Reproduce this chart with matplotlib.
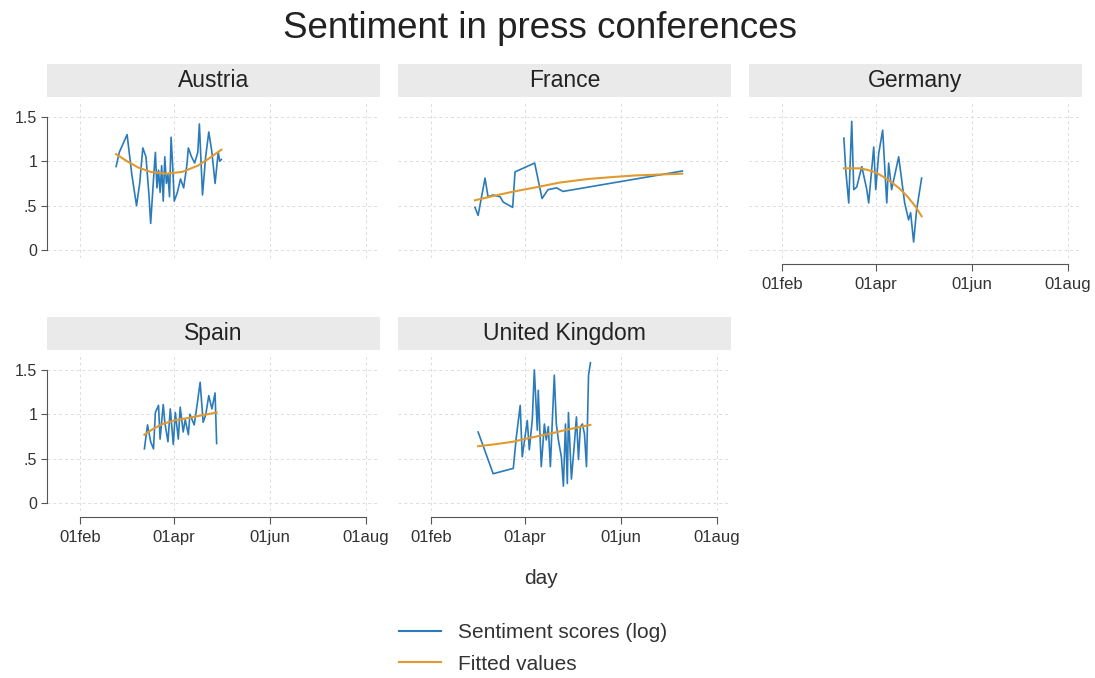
import matplotlib
matplotlib.use("Agg")
import matplotlib.pyplot as plt
from matplotlib.lines import Line2D

plt.rcParams['font.family'] = ['Liberation Sans', 'DejaVu Sans']

# ---- data: days since 01feb2020, sentiment scores (log), fitted values ----
austria_day = [23, 25, 28, 30, 33, 36, 38, 40, 42, 44, 45, 47, 48, 49, 50, 51, 52, 53, 54, 55,
               56, 57, 58, 59, 60, 62, 64, 66, 68, 69, 71, 73, 75, 76, 78, 80, 82, 84, 86, 88, 89, 90]
austria_val = [0.94, 1.10, 1.22, 1.30, 0.85, 0.50, 0.75, 1.15, 1.05, 0.60, 0.30, 0.85, 1.10, 0.70,
               0.90, 0.65, 0.95, 0.55, 1.05, 0.75, 0.85, 0.60, 1.27, 0.95, 0.55, 0.65, 0.80, 0.70,
               0.95, 1.15, 1.05, 0.98, 1.10, 1.42, 0.62, 1.05, 1.33, 1.10, 0.75, 1.10, 1.00, 1.02]
austria_fit_day = [23, 30, 37, 45, 55, 65, 75, 82, 90]
austria_fit_val = [1.08, 1.00, 0.93, 0.88, 0.86, 0.88, 0.95, 1.03, 1.13]

france_day = [28, 30, 34.4, 36.3, 39.5, 44, 46, 52, 53.5, 66, 70.7, 74.5, 80, 84, 160]
france_val = [0.48, 0.39, 0.81, 0.60, 0.62, 0.60, 0.54, 0.48, 0.88, 0.98, 0.58, 0.68, 0.70, 0.66, 0.89]
france_fit_day = [28, 40, 53, 68, 82, 100, 114, 130, 145, 160]
france_fit_val = [0.56, 0.61, 0.66, 0.71, 0.76, 0.80, 0.82, 0.84, 0.85, 0.86]

germany_day = [39.4, 40.6, 42.5, 44.4, 45.7, 47.6, 50.8, 54, 55.2, 58.4, 59.7, 61.6, 64.1, 66.7,
               67.9, 69.8, 74.3, 78.1, 80.6, 81.9, 83.8, 85.7, 88.9]
germany_val = [1.26, 0.90, 0.53, 1.45, 0.68, 0.71, 0.94, 0.68, 0.53, 1.16, 0.68, 1.09, 1.35, 0.53,
               0.98, 0.68, 1.05, 0.53, 0.34, 0.42, 0.09, 0.45, 0.81]
germany_fit_day = [39.4, 45, 50, 55, 60, 65, 70, 75, 80, 85, 88.9]
germany_fit_val = [0.92, 0.92, 0.92, 0.90, 0.87, 0.82, 0.76, 0.69, 0.60, 0.49, 0.38]

spain_day = [41, 43, 45, 46.8, 48, 50, 51, 53, 54, 56, 57.5, 59.4, 60.7, 62.6, 63.8, 65.7, 67, 69,
             70, 72.7, 74.6, 76.5, 78.4, 80, 82, 84, 86, 87]
spain_val = [0.61, 0.88, 0.69, 0.61, 1.02, 1.10, 0.72, 1.11, 0.91, 0.69, 1.06, 0.66, 1.02, 0.72,
             1.08, 0.80, 0.94, 0.77, 1.00, 0.88, 1.11, 1.36, 0.91, 0.99, 1.21, 1.06, 1.24, 0.67]
spain_fit_day = [41, 47, 52.5, 60, 69.5, 78, 87]
spain_fit_val = [0.77, 0.84, 0.89, 0.93, 0.96, 0.99, 1.02]

uk_day = [30, 39.6, 52.4, 54.3, 56.8, 58.1, 61.3, 62.6, 64.5, 65.8, 67.7, 68.3, 70.2, 72.2, 73.4,
          74.7, 76, 78.5, 79.8, 81.1, 83, 84.3, 85.6, 86.8, 87.5, 89.4, 91.3, 92.6, 93.9, 95.1,
          96.4, 97.7, 99, 100.3, 101.5]
uk_val = [0.80, 0.33, 0.39, 0.74, 1.10, 0.52, 0.93, 0.60, 0.94, 1.50, 0.82, 1.27, 0.41, 0.89, 0.71,
          0.86, 0.41, 1.44, 0.89, 0.71, 0.52, 0.19, 0.89, 0.22, 1.02, 0.27, 0.67, 0.97, 0.49, 0.86,
          0.89, 0.78, 0.41, 1.44, 1.58]
uk_fit_day = [30, 40, 52, 62, 70, 78, 85, 93, 101.5]
uk_fit_val = [0.64, 0.66, 0.69, 0.73, 0.76, 0.79, 0.82, 0.85, 0.88]

countries = ["Austria", "France", "Germany", "Spain", "United Kingdom"]
series = [
    (austria_day, austria_val, austria_fit_day, austria_fit_val),
    (france_day, france_val, france_fit_day, france_fit_val),
    (germany_day, germany_val, germany_fit_day, germany_fit_val),
    (spain_day, spain_val, spain_fit_day, spain_fit_val),
    (uk_day, uk_val, uk_fit_day, uk_fit_val),
]

x_ticks = [0, 60, 121, 182]
x_labels = ["01feb", "01apr", "01jun", "01aug"]
y_ticks = [0, 0.5, 1, 1.5]
y_labels = ["0", ".5", "1", "1.5"]

title = "Sentiment in press conferences"
x_title = "day"
legend_labels = ["Sentiment scores (log)", "Fitted values"]

BLUE = "#2b7bba"
ORANGE = "#e09a2e"

W, H = 1095, 678
fig = plt.figure(figsize=(W / 100, H / 100), dpi=100)

col_left = [47, 398, 749]
row_top = [100, 353]
ax_w, ax_h = 333, 158
strip_h = 33
strip_gap = 3

def fx(px):
    return px / W

def fy(py):
    return 1 - py / H

for i, name in enumerate(countries):
    r, c = divmod(i, 3)
    left = col_left[c]
    top = row_top[r]
    ax = fig.add_axes([fx(left), fy(top + ax_h), ax_w / W, ax_h / H])
    d, v, fd, fv = series[i]
    ax.plot(d, v, color=BLUE, lw=1.2, zorder=3)
    ax.plot(fd, fv, color=ORANGE, lw=1.5, zorder=4)
    ax.set_xlim(-21, 191)
    ax.set_ylim(-0.09, 1.69)
    ax.set_xticks(x_ticks)
    ax.set_yticks(y_ticks)
    ax.grid(True, color="#dcdcdc", lw=0.7, ls=(0, (3, 3)))
    ax.set_axisbelow(True)
    for s in ["top", "right"]:
        ax.spines[s].set_visible(False)
    # y axis
    if c == 0:
        ax.spines["left"].set_bounds(0, 1.5)
        ax.spines["left"].set_color("#555555")
        ax.set_yticklabels(y_labels)
        ax.tick_params(axis="y", length=4, color="#555555", labelsize=11.5, labelcolor="#333333", pad=3)
    else:
        ax.spines["left"].set_visible(False)
        ax.tick_params(axis="y", left=False, labelleft=False)
    # x axis
    show_x = (r == 1) or (i == 2)
    if show_x:
        ax.spines["bottom"].set_bounds(0, 182)
        ax.spines["bottom"].set_position(("outward", 4.5))
        ax.spines["bottom"].set_color("#555555")
        ax.set_xticklabels(x_labels)
        ax.tick_params(axis="x", length=5, color="#555555", labelsize=12, labelcolor="#333333", pad=4)
    else:
        ax.spines["bottom"].set_visible(False)
        ax.tick_params(axis="x", bottom=False, labelbottom=False)
    # strip
    sax = fig.add_axes([fx(left), fy(top - strip_gap), ax_w / W, strip_h / H])
    sax.set_facecolor("#eaeaea")
    sax.set_xticks([])
    sax.set_yticks([])
    for s in sax.spines.values():
        s.set_visible(False)
    sax.text(0.5, 0.5, name, ha="center", va="center", fontsize=16.5, color="#222222",
             transform=sax.transAxes)

fig.text(fx(540), fy(29), title, ha="center", va="center", fontsize=26.5, color="#222222")
fig.text(fx(541), fy(578), x_title, ha="center", va="center", fontsize=15, color="#333333")

handles = [Line2D([], [], color=BLUE, lw=1.5), Line2D([], [], color=ORANGE, lw=1.5)]
fig.legend(handles, legend_labels, loc="upper left", bbox_to_anchor=(fx(399), fy(623)),
           frameon=False, fontsize=15, handlelength=2.0, handletextpad=0.85,
           labelspacing=0.6, borderpad=0, borderaxespad=0, labelcolor="#333333")

fig.savefig("out.png", dpi=100)
